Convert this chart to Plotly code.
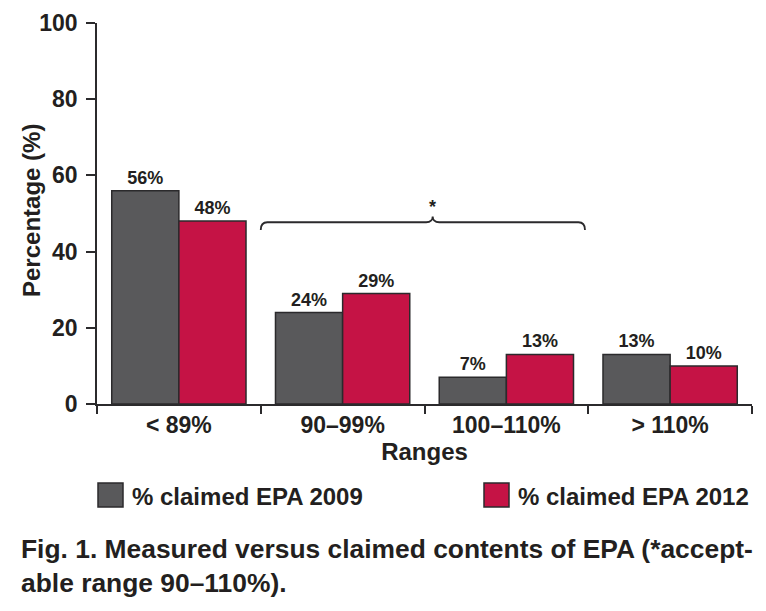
import plotly.graph_objects as go

cat_labels = ["< 89%", "90–99%", "100–110%", "> 110%"]
values_2009 = [56, 24, 7, 13]
values_2012 = [48, 29, 13, 10]
labels_2009 = ["56%", "24%", "7%", "13%"]
labels_2012 = ["48%", "29%", "13%", "10%"]
series_names = ["% claimed EPA 2009", "% claimed EPA 2012"]
y_ticks = [0, 20, 40, 60, 80, 100]

GRAY = "#59595b"
RED = "#c51345"
EDGE = "#2b2a2c"
TXT = "#231f20"
FONT = "Liberation Sans"

L, R, T, B = 97, 14, 23, 207
W, H = 766, 611
PW, PH = W - L - R, H - T - B


def px_x(x):
    return (x - L) / PW


def px_y(y):
    return (H - B - y) / PH


fig = go.Figure()
for vals, labs, name, col in [(values_2009, labels_2009, series_names[0], GRAY),
                              (values_2012, labels_2012, series_names[1], RED)]:
    fig.add_trace(go.Bar(
        x=cat_labels, y=vals, name=name, text=labs, textposition="outside",
        textfont=dict(family=FONT, size=18, color=TXT, weight="bold"),
        marker=dict(color=col, line=dict(color=EDGE, width=1.5)),
        cliponaxis=False, showlegend=False,
    ))

# bracket marking acceptable range
fig.add_shape(type="path", xref="x", yref="y",
              path="M 0.5,45.7 Q 0.5,47.7 0.54,47.7 L 1.51,47.7 Q 1.55,47.7 1.55,49.2 "
                   "Q 1.55,47.7 1.59,47.7 L 2.44,47.7 Q 2.48,47.7 2.48,45.7",
              line=dict(color=EDGE, width=1.8))
fig.add_annotation(x=1.55, y=51.8, xref="x", yref="y", text="<b>*</b>", showarrow=False,
                   font=dict(family=FONT, size=18, color=TXT))

# y-axis title
fig.add_annotation(x=px_x(31), y=px_y(211), xref="paper", yref="paper",
                   text="<b>Percentage (%)</b>", textangle=-90, showarrow=False,
                   xanchor="center", yanchor="middle",
                   font=dict(family=FONT, size=24, color=TXT))

# manual legend
for i, (name, col) in enumerate(zip(series_names, [GRAY, RED])):
    x0 = 98 + i * 386
    fig.add_shape(type="rect", xref="paper", yref="paper",
                  x0=px_x(x0), x1=px_x(x0 + 25),
                  y0=px_y(507), y1=px_y(483),
                  fillcolor=col, line=dict(color=EDGE, width=1.5))
    fig.add_annotation(x=px_x(x0 + 32), y=px_y(496), xref="paper", yref="paper",
                       xanchor="left", yanchor="middle", showarrow=False,
                       text="<b>" + name + "</b>",
                       font=dict(family=FONT, size=24, color=TXT))

# caption
fig.add_annotation(x=px_x(19), y=px_y(532), xref="paper", yref="paper",
                   xanchor="left", yanchor="top", align="left", showarrow=False,
                   text="<b>Fig. 1. Measured versus claimed contents of EPA (*accept-<br>able range 90–110%).</b>",
                   font=dict(family=FONT, size=26.4, color=TXT))

fig.update_layout(
    width=W, height=H,
    margin=dict(l=L, r=R, t=T, b=B),
    paper_bgcolor="white", plot_bgcolor="white",
    barmode="group", bargap=0.18, bargroupgap=0,
    font=dict(family=FONT, color=TXT),
    xaxis=dict(
        type="category", tickson="boundaries", ticks="outside", ticklen=8,
        tickwidth=1.5, tickcolor=EDGE, showline=True, linecolor=EDGE, linewidth=1.5,
        showgrid=False, tickfont=dict(family=FONT, size=23, color=TXT, weight="bold"),
        title=dict(text="<b>Ranges</b>", font=dict(family=FONT, size=24, color=TXT), standoff=4),
        range=[-0.5, 3.5], automargin=False,
    ),
    yaxis=dict(
        range=[0, 100], tickvals=y_ticks, ticks="outside", ticklen=9, tickwidth=1.5,
        tickcolor=EDGE, showline=True, linecolor=EDGE, linewidth=1.5, showgrid=False,
        zeroline=False, tickfont=dict(family=FONT, size=23, color=TXT, weight="bold"),
        ticklabelstandoff=4, automargin=False,
    ),
)

fig.write_html("out.html", config={"displayModeBar": False},
               post_script="document.body.style.margin='0';")
